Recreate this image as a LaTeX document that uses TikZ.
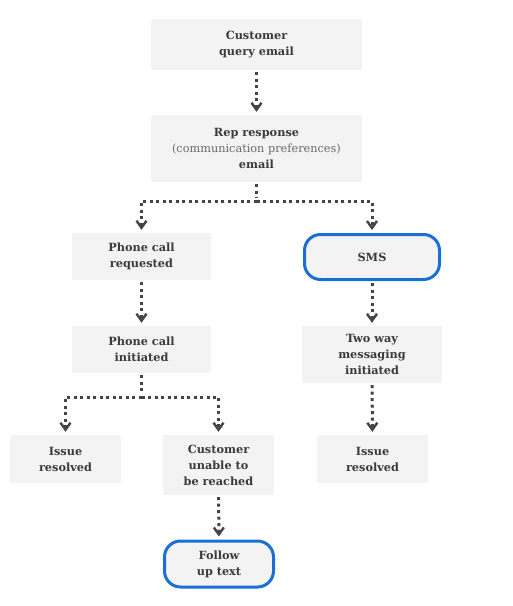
\documentclass[tikz,border=0pt]{standalone}
\usepackage{fontspec}
\setmainfont{DejaVu Serif}
\usetikzlibrary{arrows.meta}
\definecolor{boxgray}{HTML}{F3F3F3}
\definecolor{smsblue}{HTML}{1A6FD6}
\definecolor{linegray}{HTML}{444444}
\definecolor{txtgray}{HTML}{3A3A3A}
\definecolor{notegray}{HTML}{6A6A6A}
\begin{document}
\begin{tikzpicture}[x=1pt,y=1pt,
  box/.style={fill=boxgray, minimum width=211pt, minimum height=51pt, inner sep=0pt, align=center,
    font=\fontsize{11.3}{16}\selectfont\bfseries, text=txtgray},
  pill/.style={box, draw=smsblue, line width=3pt, rounded corners=16pt},
  flow/.style={linegray, line width=3pt, dash pattern=on 3pt off 3.5pt,
    -{Straight Barb[length=7pt,width=10pt,line width=2.4pt]}, shorten >=3pt, shorten <=2pt}]
\useasboundingbox (0,0) rectangle (513,-606);
\node[box] (query) at (256.5,-44.5) {Customer\\query email};
\node[box, minimum height=67pt] (rep) at (256.5,-148.5) {Rep response\\\mdseries\color{notegray}(communication preferences)\\email};
\node[box, minimum width=139pt, minimum height=47pt] (callreq) at (141.5,-256.5) {Phone call\\requested};
\node[pill, minimum width=135pt, minimum height=45pt] (sms) at (372,-257) {SMS};
\node[box, minimum width=139pt, minimum height=47pt] (callinit) at (141.5,-349.5) {Phone call\\initiated};
\node[box, minimum width=140pt, minimum height=57pt] (twoway) at (372,-354.5) {Two way\\messaging\\initiated};
\node[box, minimum width=111pt, minimum height=48pt] (resolvedl) at (65.5,-459) {Issue\\resolved};
\node[box, minimum width=111pt, minimum height=60pt] (unreached) at (218.5,-465) {Customer\\unable to\\be reached};
\node[box, minimum width=111pt, minimum height=48pt] (resolvedr) at (372.5,-459) {Issue\\resolved};
\node[pill, minimum width=109pt, minimum height=46pt] (followup) at (219,-564) {Follow\\up text};
\coordinate (split1) at (256.5,-201);
\coordinate (split2) at (141.5,-397);
\draw[flow] (query) -- (rep);
\draw[flow, -] (rep) -- (split1);
\draw[flow, shorten <=0pt] (split1) -| (callreq);
\draw[flow, shorten <=0pt] (split1) -| (sms);
\draw[flow] (callreq) -- (callinit);
\draw[flow] (sms) -- (twoway);
\draw[flow] (twoway) -- (resolvedr);
\draw[flow, -] (callinit) -- (split2);
\draw[flow, shorten <=0pt] (split2) -| (resolvedl);
\draw[flow, shorten <=0pt] (split2) -| (unreached);
\draw[flow] (unreached) -- (followup);
\end{tikzpicture}
\end{document}
